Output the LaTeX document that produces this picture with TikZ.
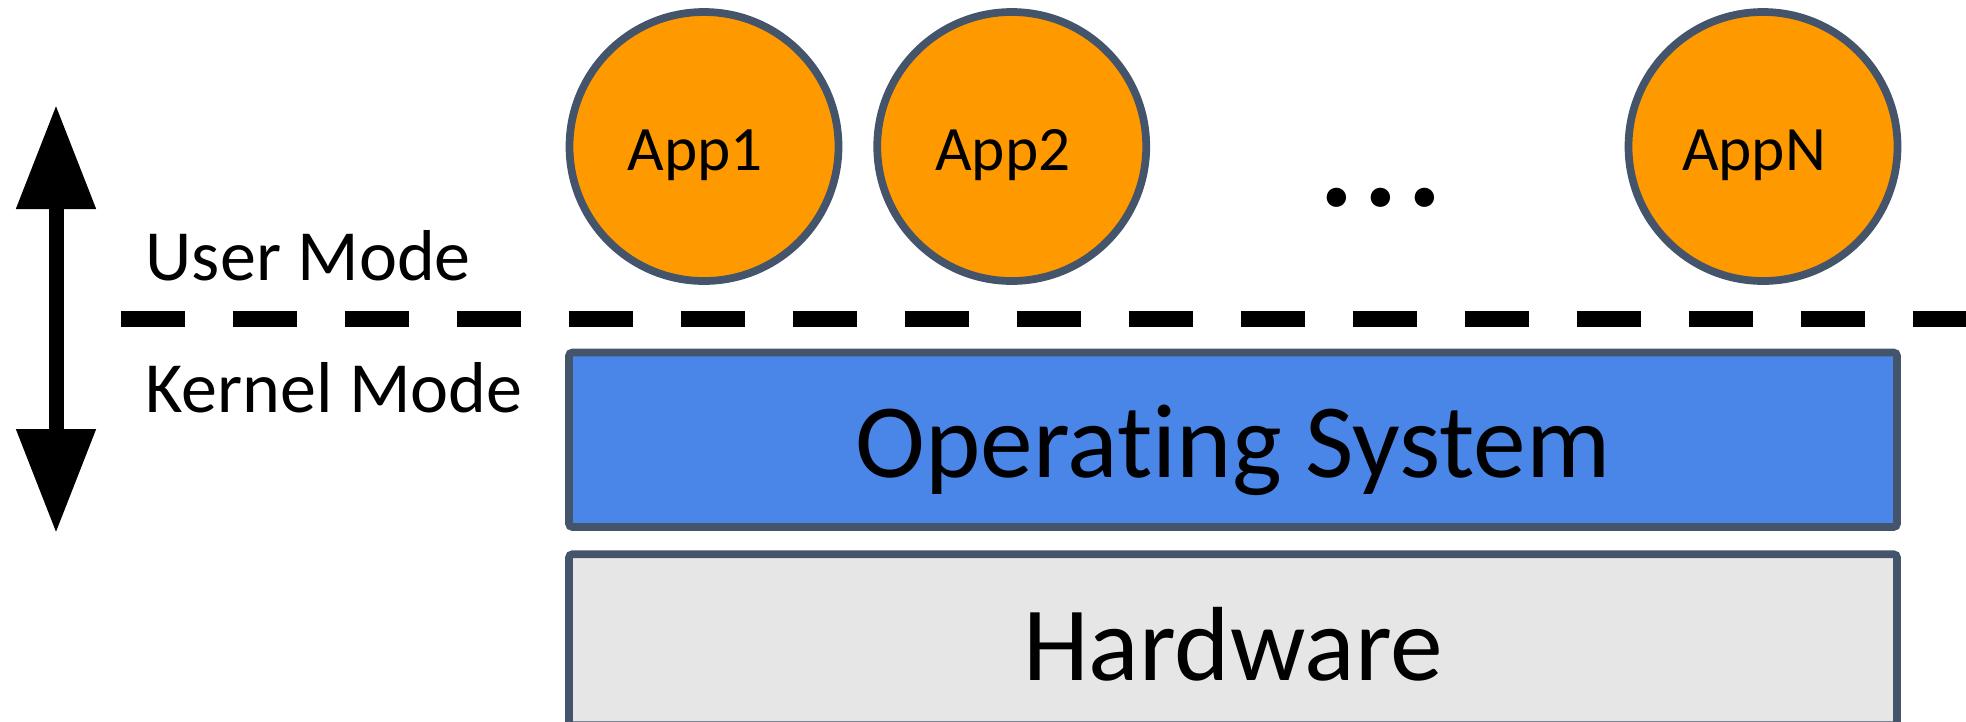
\documentclass[tikz,border=0pt]{standalone}
\usepackage{fontspec}
\setmainfont{Carlito}[Ligatures=NoCommon]
\usepackage{xcolor}
\usetikzlibrary{positioning,arrows.meta}
\definecolor{apporange}{HTML}{FF9900}
\definecolor{edgeslate}{HTML}{44546A}
\definecolor{osblue}{HTML}{4A86E8}
\definecolor{hwgray}{HTML}{E6E6E6}

\begin{document}
\begin{tikzpicture}
		[x=1cm,y=-1cm,
		app/.style={circle,draw=edgeslate,fill=apporange,line width=2.2pt,minimum size=2.69cm,inner sep=0pt,font=\fontsize{18}{18}\selectfont,text height=13.8pt,text depth=0pt,execute at end node={\kern0.18cm}},
		layer/.style={rectangle,rounded corners=1pt,draw=edgeslate,line width=2.2pt,minimum width=13.28cm,inner sep=0pt,font=\fontsize{30}{30}\selectfont,text depth=0pt},
		mode/.style={inner sep=0pt,anchor=base west,font=\fontsize{20.5}{20.5}\selectfont},
		boundary/.style={line width=0.16cm,dash pattern=on 0.64cm off 0.48cm},
		updown/.style={line width=0.15cm,>={Triangle[width=0.76cm,length=1.04cm]},<->}]
		\useasboundingbox (0,0) rectangle (19.66,7.21);
		% applications
		\node[app] (app1) at (7.04,1.465) {App1};
		\node[app,right=0.31cm of app1] (app2) {App2};
		\node[app] (appn) at (17.63,1.465) {AppN};
		\node[anchor=base,inner sep=0pt,font=\fontsize{37}{37}\selectfont\bfseries] (more) at (13.81,2.06) {.\kern2.6pt.\kern2.6pt.};
		% privilege boundary
		\coordinate (bleft) at (1.21,3.19);
		\coordinate (bright) at (19.66,3.19);
		\draw[boundary] (bleft) -- (bright);
		\node[mode] (user) at (1.45,2.80) {User Mode};
		\node[mode] (kernel) at (1.45,4.12) {Kernel Mode};
		\coordinate (uptip) at (0.56,1.05);
		\coordinate (downtip) at (0.56,5.33);
		\draw[updown] (uptip) -- (downtip);
		% layers
		\node[layer,fill=osblue,minimum height=1.745cm,text height=21.6pt] (os) at (12.33,4.3975) {Operating System};
		\node[layer,fill=hwgray,minimum height=1.71cm,text height=23.2pt,below=0.195cm of os] (hw) {Hardware};
\end{tikzpicture}
\end{document}
